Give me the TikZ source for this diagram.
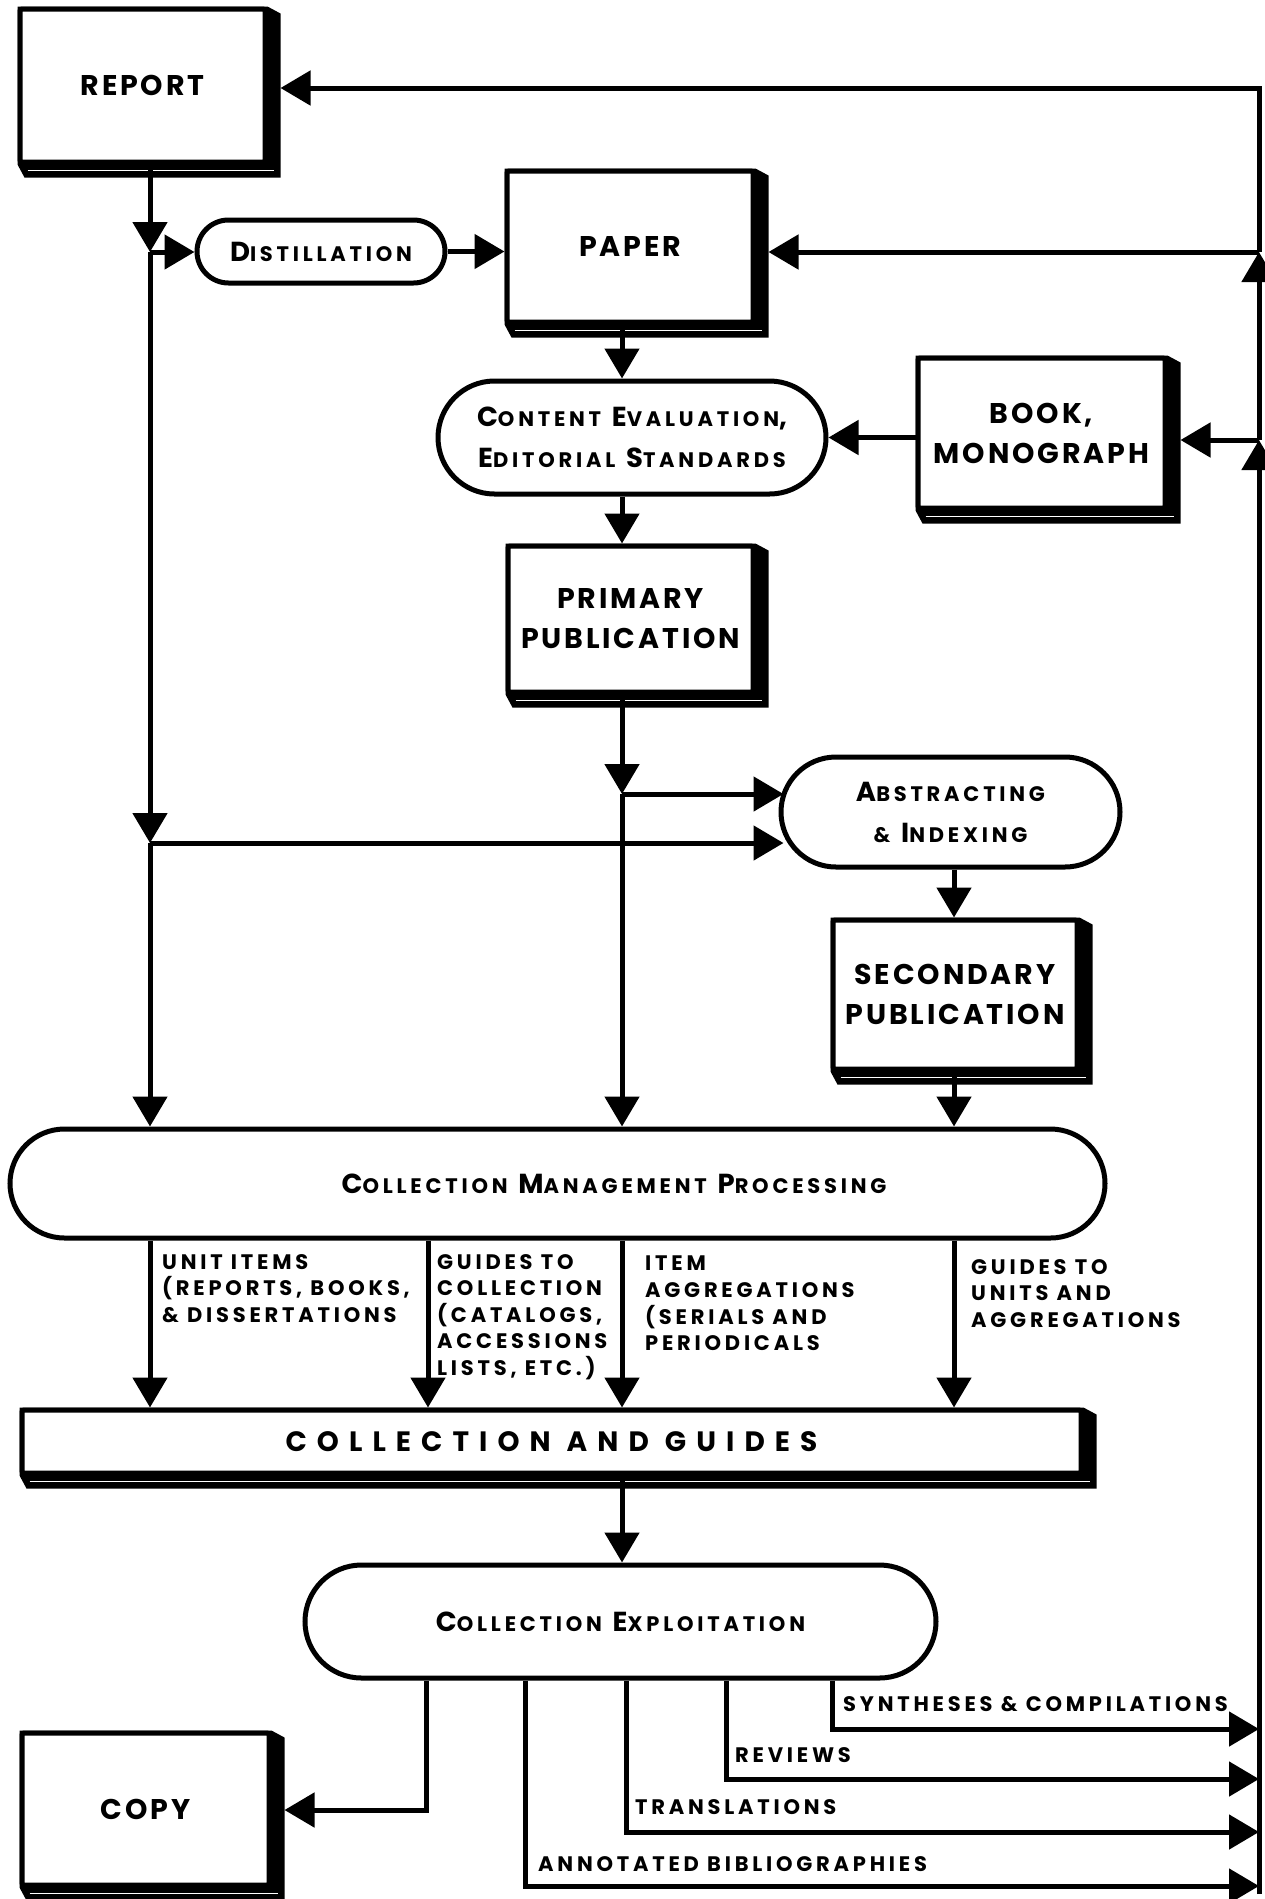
\documentclass[tikz,border=0pt]{standalone}
\usepackage{fontspec}
\setmainfont{Poppins}
\newfontfamily\titlefont[LetterSpace=10]{Poppins}
\newfontfamily\pillfont[LetterSpace=18]{Poppins}
\newfontfamily\labelfont[LetterSpace=18]{Poppins}
\newfontfamily\widefont[LetterSpace=36]{Poppins}
\usetikzlibrary{arrows.meta,shapes.misc,calc,backgrounds}
% lowered capitals for the small-caps style labels
\newcommand\lowc[1]{{\fontsize{21}{41}\selectfont #1}}

\tikzset{
  shbox/.style={draw, line width=5pt, fill=white, rounded corners=2pt, align=center, inner sep=0pt},
  pill/.style={rounded rectangle, draw, line width=5pt, fill=white, align=center, inner sep=0pt},
  flow/.style={line width=5pt, -{Triangle[length=30pt,width=34pt]}},
  titlef/.style={font=\titlefont\bfseries\fontsize{28.5}{40}\selectfont},
  pillf/.style={font=\pillfont\bfseries\fontsize{27.5}{41}\selectfont},
  cagf/.style={font=\widefont\bfseries\fontsize{28}{30}\selectfont},
  lblf/.style={font=\labelfont\bfseries\fontsize{21}{26.6}\selectfont, inner sep=0pt, align=left},
}

\begin{document}
\begin{tikzpicture}[x=1pt,y=-1pt]
\useasboundingbox (0,0) rectangle (1265,1899);

% boxes and process ovals
\node[shbox, titlef, minimum width=245pt, minimum height=153pt] (report) at (142.5,85.5) {REPORT};
\node[pill, pillf, minimum width=248pt, minimum height=63pt] (distill) at (321,251.5) {D\lowc{ISTILLATION}};
\node[shbox, titlef, minimum width=246pt, minimum height=151pt] (paper) at (630,246.5) {PAPER};
\node[pill, pillf, minimum width=388pt, minimum height=113pt] (ce) at (632,437.5)
  {C\lowc{ONTENT} E\lowc{VALUATION},\\E\lowc{DITORIAL} S\lowc{TANDARDS}};
\node[shbox, titlef, minimum width=247pt, minimum height=150pt] (book) at (1041.5,433) {BOOK,\\MONOGRAPH};
\node[shbox, titlef, minimum width=245pt, minimum height=146pt] (primary) at (630.5,619) {PRIMARY\\PUBLICATION};
\node[pill, pillf, minimum width=339pt, minimum height=110pt] (abstr) at (950.5,812)
  {A\lowc{BSTRACTING}\\\lowc{\&} I\lowc{NDEXING}};
\node[shbox, titlef, minimum width=244pt, minimum height=149pt] (second) at (955,994.5) {SECONDARY\\PUBLICATION};
\node[pill, minimum width=1095pt, minimum height=109pt] (cmp) at (557.5,1183.5) {};
\node[pillf, inner sep=0pt] (cmptext) at (614,1184) {C\lowc{OLLECTION} M\lowc{ANAGEMENT} P\lowc{ROCESSING}};
\node[shbox, cagf, minimum width=1059pt, minimum height=63pt] (cag) at (551.5,1441.5) {COLLECTION AND GUIDES};
\node[pill, pillf, minimum width=631pt, minimum height=113pt] (cex) at (620.5,1621.5) {C\lowc{OLLECTION} E\lowc{XPLOITATION}};
\node[shbox, titlef, minimum width=247pt, minimum height=152pt] (copy) at (145.5,1809) {COPY};

% solid extruded edges on the right and bottom of the boxes
\begin{scope}[on background layer]
\foreach \n in {report,paper,book,primary,second,cag,copy}
  \fill (\n.north west) -- (\n.north east) -- ++(13,7) -- ($(\n.south east)+(13,13)$)
        -- ($(\n.south west)+(7,13)$) -- (\n.south west) -- cycle;
\end{scope}
\foreach \n in {report,paper,book,primary,second,cag,copy}
  \draw[white, line width=1.2pt] ($(\n.south west)+(10,6)$) -- ($(\n.south east)+(6,6)$);

% junctions and bus points
\coordinate (busTop) at (1259,88);
\coordinate (busPaper) at (1259,252);
\coordinate (busBook) at (1259,440);
\coordinate (busBot) at (1259,1894);
\coordinate (jd) at (150,252);
\coordinate (ja) at (150,843);
\coordinate (pj) at (622,794);
\coordinate (xcg) at (428,0);
\coordinate (xs) at (954,0);
\coordinate (cp) at (426,1810);
\coordinate (d1) at (832,1729);
\coordinate (d2) at (726,1779);
\coordinate (d3) at (626,1832);
\coordinate (d4) at (525,1886);

% feedback bus on the right
\draw[flow] (busBot) -- (busBook);
\draw[flow] (busBook) -- (busPaper);
\draw[flow] (busPaper) -- (busTop) -- ($(report.east |- busTop)+(13,0)$);
\draw[flow] (busPaper) -- ($(paper.east |- busPaper)+(13,0)$);
\draw[flow] (busBook) -- ($(book.east |- busBook)+(13,0)$);

% report line
\draw[flow] (report.south -| jd) -- (jd);
\draw[flow] (jd) -- (distill.west |- jd);
\draw[flow] (jd) -- (ja);
\draw[flow] (ja) -- ($(abstr.west |- ja)+(5,0)$);
\draw[flow] (distill.east) -- (distill.east -| paper.west);

% paper to publications
\draw[flow] (paper.south -| pj) -- (pj |- ce.north);
\draw[flow] (book.west |- ce.east) -- (ce.east);
\draw[flow] (ce.south -| pj) -- (pj |- primary.north);
\draw[flow] (primary.south -| pj) -- (pj);
\draw[flow] (pj) -- ($(abstr.west |- pj)+(5,0)$);
\draw[flow] (abstr.south -| xs) -- (xs |- second.north);

% into collection management
\draw[flow] (ja) -- (ja |- cmp.north);
\draw[flow] (pj) -- (pj |- cmp.north);
\draw[flow] (second.south -| xs) -- (xs |- cmp.north);

% out of collection management
\foreach \c in {jd, xcg, pj, xs} \draw[flow] (cmp.south -| \c) -- (\c |- cag.north);
\node[lblf, anchor=north west] (lu) at (162,1254) {UNIT ITEMS\\(REPORTS, BOOKS,\\\& DISSERTATIONS};
\node[lblf, anchor=north west] (lg) at (437,1254) {GUIDES TO\\COLLECTION\\(CATALOGS,\\ACCESSIONS\\LISTS, ETC.)};
\node[lblf, anchor=north west] (li) at (645,1256) {ITEM\\AGGREGATIONS\\(SERIALS AND\\PERIODICALS};
\node[lblf, anchor=north west] (lgu) at (971,1259) {GUIDES TO\\UNITS AND\\AGGREGATIONS};

% exploitation
\draw[flow] (cag.south -| pj) -- (pj |- cex.north);
\draw[flow] (cex.south -| cp) -- (cp) -- ($(copy.east |- cp)+(13,0)$);
\draw[flow] (cex.south -| d1) -- (d1) -- (d1 -| busTop);
\draw[flow] (cex.south -| d2) -- (d2) -- (d2 -| busTop);
\draw[flow] (cex.south -| d3) -- (d3) -- (d3 -| busTop);
\draw[flow] (cex.south -| d4) -- (d4) -- (d4 -| busTop);
\node[lblf, anchor=base west] (ls) at (843,1711) {SYNTHESES \& COMPILATIONS};
\node[lblf, anchor=base west] (lr) at (735,1762) {REVIEWS};
\node[lblf, anchor=base west] (lt) at (635,1814) {TRANSLATIONS};
\node[lblf, anchor=base west] (lab) at (538,1871) {ANNOTATED BIBLIOGRAPHIES};
\end{tikzpicture}
\end{document}
